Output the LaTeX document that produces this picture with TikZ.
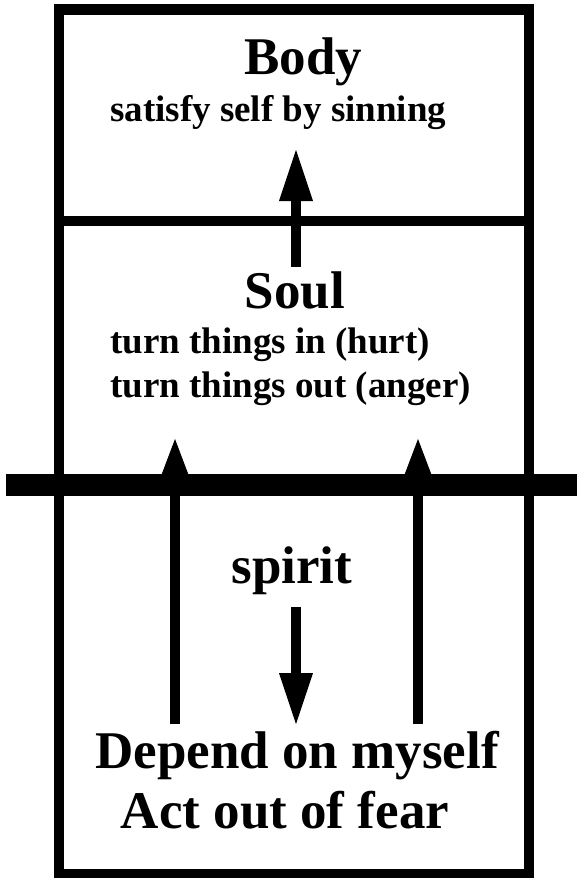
\documentclass[tikz,border=0pt]{standalone}
\usepackage{fontspec}
\setmainfont{Liberation Serif}
\usetikzlibrary{arrows.meta}
\def\FrameW{10.5}
\def\BigSize{53}
\def\SmallSize{37}
\def\FrameLeft{59}
\def\FrameRight{529}
\def\FrameTop{9.7}
\def\FrameBottom{874.5}

\begin{document}
\begin{tikzpicture}[x=1pt,y=-1pt,
    bigtext/.style={inner sep=0pt,anchor=base,font=\bfseries\fontsize{\BigSize}{\BigSize}\selectfont},
    smalltext/.style={inner sep=0pt,anchor=base west,font=\bfseries\fontsize{\SmallSize}{\SmallSize}\selectfont},
    wideup/.style={line width=9.5pt,-{Triangle[length=53pt,width=31pt]}},
    narrowup/.style={line width=10pt,-{Triangle[length=38pt,width=23pt]}}
]

% Page background
\useasboundingbox (0,0) rectangle (577,878);
\fill[white] (0,0) rectangle (577,878);

% =====================================================
% OUTER FRAME AND DIVIDERS
% =====================================================
\draw[line width=\FrameW pt] (\FrameLeft,\FrameTop) rectangle (\FrameRight,\FrameBottom);
\draw[line width=\FrameW pt] (\FrameLeft,221) -- (\FrameRight,221);

% Thick bar between soul and spirit
\draw[line width=22pt] (5.5,485) -- (577,485);

% =====================================================
% BODY
% =====================================================
\node[bigtext] (body) at (303.5,74) {Body};
\node[smalltext] (bodynote) at (110,121) {satisfy self by sinning};

% =====================================================
% SOUL
% =====================================================
\node[bigtext] (soul) at (295,308) {Soul};
\node[smalltext] (soulin) at (110,353) {turn things in (hurt)};
\node[smalltext] (soulout) at (110,397) {turn things out (anger)};

% =====================================================
% SPIRIT
% =====================================================
\node[bigtext] (spirit) at (292,583) {spirit};
\node[bigtext] (depend) at (297,768) {Depend on myself};
\node[bigtext] (fear) at (285,828) {Act out of fear};

% =====================================================
% ARROWS
% =====================================================
\coordinate (soultop) at (296,267);
\coordinate (bodytip) at (296,148);
\coordinate (spiritbot) at (296,607);
\coordinate (dependtip) at (296,726);

\draw[wideup] (soultop) -- (bodytip);
\draw[wideup] (spiritbot) -- (dependtip);

% Two arrows from the bottom up into the soul
\foreach \x/\name in {175/left,418/right} {
    \coordinate (\name foot) at (\x,724);
    \coordinate (\name tip) at (\x,436);
    \draw[narrowup] (\name foot) -- (\name tip);
}

\end{tikzpicture}
\end{document}
